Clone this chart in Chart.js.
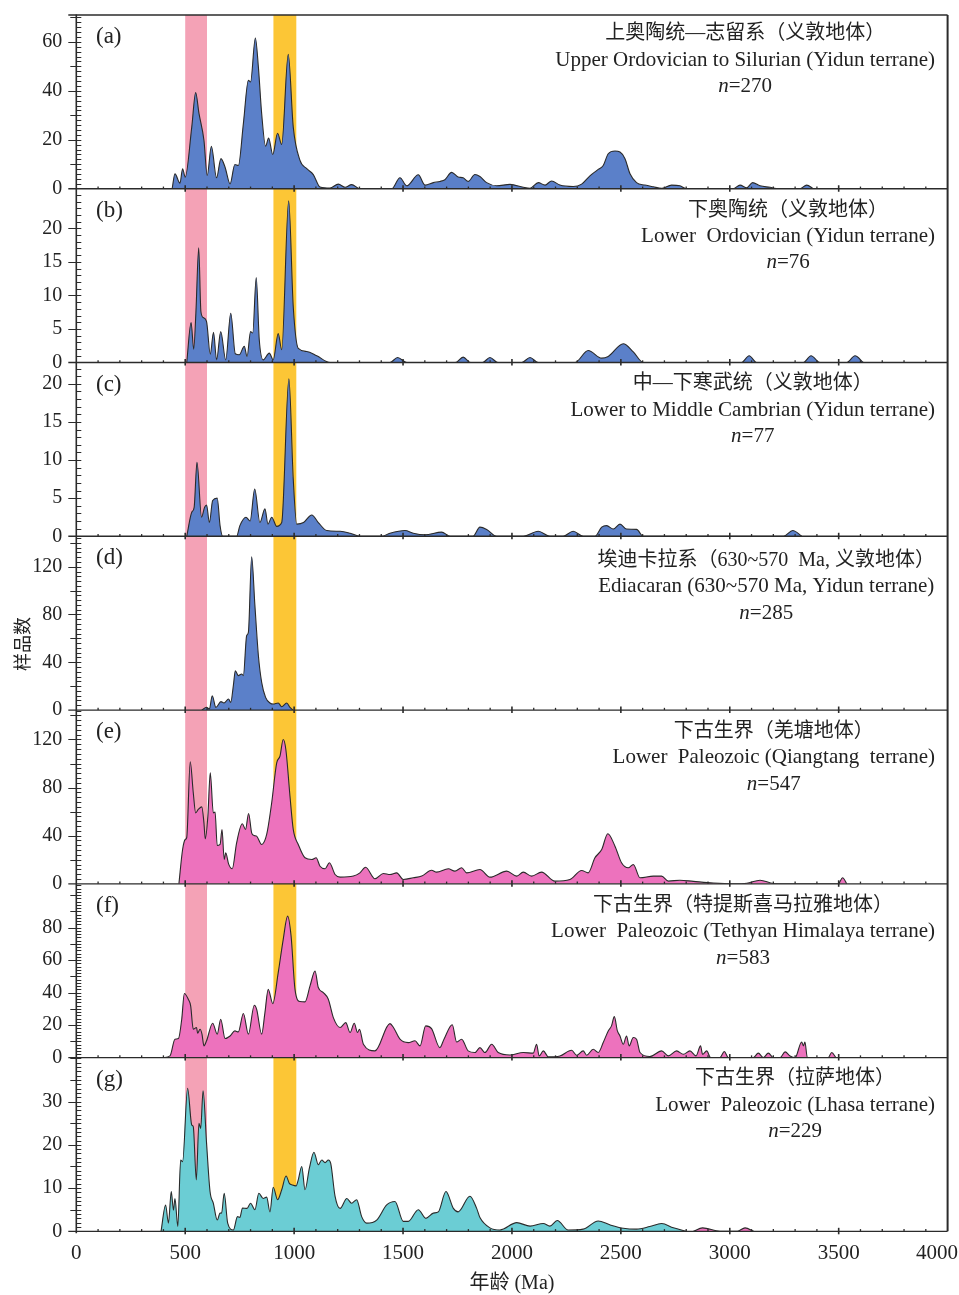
<!DOCTYPE html>
<html>
<head>
<meta charset="utf-8">
<script src="https://cdn.jsdelivr.net/npm/chart.js@4.4.1/dist/chart.umd.min.js"></script>
<style>
  html, body { margin: 0; padding: 0; background: #fff; }
  #wrap { position: relative; width: 959px; height: 1295px; }
</style>
</head>
<body>
<div id="wrap"><canvas id="chart" width="959" height="1295"></canvas></div>
<script>
// ages (Ma) and sample counts
const ageA = [440,453,476,488,500,530,548,563,586,601,620,644,664,683,706,728,744,767,790,800,822,836,851,869,883,902,924,943,973,996,1027,1058,1088,1119,1165,1203,1234,1264,1302,1448,1486,1517,1570,1601,1639,1669,1692,1723,1753,1776,1799,1830,1853,1884,1930,1991,2052,2083,2121,2152,2182,2220,2281,2320,2358,2396,2419,2442,2473,2496,2519,2542,2572,2610,2649,2687,2733,2771,2802,3016,3047,3078,3105,3139,3185,3223,3322,3353,3384];
const countA = [0,6.1,2.3,8.2,4.7,25.2,39.3,30.9,19.8,5.4,17.3,4.5,12.3,8.8,2,9.9,9.5,26.6,44.3,43.6,61.6,49.7,30.7,17.4,20.7,14,22.7,18.1,54.9,25.2,11.6,8.2,5.8,0.7,0.3,1.9,0.6,1.7,0,0,4.5,1.2,5.7,1.5,2.5,3,3.7,6.7,4.8,4.5,3,5.8,5.0,2.5,1.2,1.8,0.6,0.2,2.5,1.5,3.2,1.5,0.9,1.9,5.3,7.9,9.5,14.3,15.4,15,12.3,6.1,2.5,1.5,0.8,0.2,1.5,1.2,0,0,1.5,0.4,2.5,1.2,0.6,0,0,1.5,0];

const ageB = [507,527,539,549,562,572,583,598,615,630,644,663,686,709,730,748,771,784,800,810,826,840,858,886,904,927,943,975,996,1019,1058,1104,1165,1440,1475,1517,1740,1776,1810,1865,1899,1935,2045,2083,2120,2289,2350,2412,2442,2511,2557,2603,3054,3089,3123,3338,3373,3414,3537,3575,3613];
const countB = [0,5.95,2.0,7.4,17.1,7.6,6.7,6.1,1.25,4.5,0.4,4.6,0.4,7.35,1.3,1.15,2.4,0.9,4.6,4.4,12.65,3.4,0.4,1.4,0.4,4.3,1.9,24.1,8.3,2.1,1.65,1.0,0,0,0.75,0,0,0.8,0,0,0.75,0,0,0.75,0,0,1.8,0.65,0.9,2.8,1.6,0,0,1.0,0,0,1.0,0,0,1.0,0];

const ageC = [507,530,541,554,575,589,598,611,626,647,660,672,736,751,779,798,819,843,866,880,897,920,943,976,996,1012,1043,1081,1111,1150,1211,1257,1302,1402,1440,1509,1547,1601,1677,1716,1821,1853,1884,1930,2052,2121,2174,2235,2281,2327,2381,2412,2435,2465,2496,2526,2572,2603,3247,3289,3331];
const countC = [0,3.15,3.8,9.7,2.5,3.8,4.1,1.8,4.7,5.0,1.4,0,0,1.4,2.5,2.0,6.2,1.8,3.6,1.6,2.5,1.3,1.8,20.65,7.5,1.6,1.8,2.8,1.8,0.75,0.65,0.4,0,0,0.4,0.75,0.4,0.2,0.55,0,0,1.2,0.9,0,0,0.65,0,0,0.65,0,0,1.2,1.4,0.95,1.6,0.95,0.9,0,0,0.75,0];

const ageD = [576,598,611,624,641,664,678,699,709,721,730,744,759,767,782,790,805,820,836,851,869,889,904,927,943,966,981,994];
const countD = [0,2.2,0.8,12,2.2,7.0,5.9,9.2,6.4,20.4,32.9,28.8,30.2,28.8,62.2,65,128.4,87.4,45.5,23.2,10.6,5.9,5.0,5.9,2.8,5.9,2.2,0];

const ageE = [471,488,500,507,523,537,548,560,576,586,592,604,615,629,637,647,660,669,679,686,699,716,736,762,777,791,805,816,828,851,874,897,920,935,950,962,981,996,1019,1050,1081,1101,1119,1142,1162,1188,1211,1272,1302,1328,1371,1410,1440,1471,1501,1547,1586,1631,1654,1708,1738,1769,1792,1853,1899,1976,2022,2052,2090,2136,2197,2266,2320,2350,2381,2412,2440,2473,2503,2534,2557,2588,2649,2687,2718,2771,2833,2925,3016,3078,3139,3200,3307,3498,3518,3537];
const countE = [0,28.5,36.8,38.5,101.4,75.7,59,61.8,64,50.7,37.4,56.3,92.3,59,59.6,31.8,32.7,45.2,20.2,25.8,16.6,12.5,34.1,49.9,45.2,58.5,42.4,40.2,39.6,32.7,41,67.4,100.6,106.1,120,111.7,72.8,45.2,32.7,21.6,20.2,21.6,14.6,12.5,17.5,7.7,5.5,6.4,9.1,13.8,4.2,8.6,7.7,9.1,3.6,5.0,6.4,11.3,9.7,12.5,10.5,13.3,9.1,11.9,5.5,10.5,6.4,9.7,6.4,9.7,2.2,3.6,11.1,9.1,21.6,28.5,41.6,31.3,17.5,13.3,16.1,5.0,6.4,6.4,2.2,3,2,0.6,0,0.5,3,0.3,0,0,5.0,0];

const ageF = [400,430,453,469,484,496,514,525,537,552,557,568,577,586,598,626,647,663,683,706,728,744,767,790,817,828,851,866,881,902,927,950,970,986,1004,1027,1050,1073,1096,1111,1134,1157,1180,1211,1237,1257,1276,1291,1300,1318,1371,1440,1456,1486,1524,1555,1578,1604,1631,1669,1688,1726,1746,1769,1799,1830,1853,1876,1907,1937,1991,2052,2098,2113,2125,2144,2167,2220,2274,2297,2327,2343,2373,2396,2419,2442,2457,2470,2484,2496,2511,2526,2538,2557,2572,2588,2633,2687,2718,2756,2787,2817,2845,2866,2875,2894,2912,2955,2975,2993,3108,3131,3154,3177,3200,3231,3254,3277,3300,3330,3338,3345,3356,3452,3468,3487];
const countF = [0,1,11.3,11.7,23.6,39.4,35.9,31.8,17.4,18.5,15,17.4,14.4,7.2,10.3,21.1,14.4,23.6,11.7,13.3,16.4,15.8,27.1,14.4,32.2,29.7,14.4,27.7,42,33.2,52.3,72.8,87.1,74.9,42,34.5,34.3,44.1,53.3,43.1,40,35.9,24.6,18.5,21.5,15.4,21.1,15.4,17.4,8.2,4.1,20.9,18.5,11.3,9.2,10.3,7.2,19.5,17.8,6.1,11.3,20.2,9.6,11.3,4.1,3.1,6.1,3.1,8.2,3.1,1.6,3.1,2.7,8.2,1,4.1,0.4,1,4.5,1.4,4.1,1.4,5.1,3.1,9.2,16.4,19.5,25.2,16.4,13.3,8.2,13.3,7.2,12.3,11.3,3.1,0.6,4.1,1,4.1,2,4.1,1,7.2,2,4.1,0,0,3.7,0,0,2.7,0,2.7,0,0,3.5,1,0,9.6,7.2,9.6,0,0,3.1,0];

const ageG = [389,410,423,436,446,453,466,479,488,511,530,537,551,563,571,582,598,614,629,647,660,667,679,695,721,740,751,763,784,800,820,838,858,874,889,904,924,943,963,978,992,1009,1019,1035,1050,1070,1091,1111,1127,1142,1157,1168,1188,1211,1242,1264,1287,1310,1333,1379,1425,1463,1501,1524,1570,1605,1639,1662,1697,1731,1753,1807,1838,1853,1899,1945,2022,2083,2144,2174,2208,2258,2327,2396,2449,2511,2572,2633,2687,2741,2802];
const countG = [0,6.1,1.9,9.2,4.9,7.6,1.1,16.5,16.1,33.1,24.6,24.2,11.9,25,23.8,32.5,20.4,9.2,6.5,2.6,4.2,4.2,8.8,1.9,0.3,3.4,3.2,5.4,5.3,6.5,5,8.8,7.6,7.9,4.5,10.2,7.3,9.6,12.8,11.1,10.7,10.5,11.9,15,9.6,14.6,18.3,15.4,16.5,15.9,16.5,15.7,8.1,5.3,7.6,6.5,7.3,3.4,1.9,2.6,6.1,6.9,2.3,2.3,5,3,4.2,4.5,9.2,5.3,4.5,8.1,5.3,3.2,0.8,0.3,2,1.2,1.8,1.2,2.5,0.3,0.5,2.4,1.5,0.7,0.5,1.1,1.8,0.8,0];
const ageG2 = [2833,2875,2955,3035,3070,3110];
const countG2 = [0,0.8,0,0,0.8,0];

// panel text and axes
const panelLetters = ['a','b','c','d','e','f','g'];
const titlesZh = [
  '上奥陶统—志留系（义敦地体）',
  '下奥陶统（义敦地体）',
  '中—下寒武统（义敦地体）',
  '埃迪卡拉系（630~570  Ma, 义敦地体）',
  '下古生界（羌塘地体）',
  '下古生界（特提斯喜马拉雅地体）',
  '下古生界（拉萨地体）'
];
const titlesEn = [
  'Upper Ordovician to Silurian (Yidun terrane)',
  'Lower  Ordovician (Yidun terrane)',
  'Lower to Middle Cambrian (Yidun terrane)',
  'Ediacaran (630~570 Ma, Yidun terrane)',
  'Lower  Paleozoic (Qiangtang  terrane)',
  'Lower  Paleozoic (Tethyan Himalaya terrane)',
  'Lower  Paleozoic (Lhasa terrane)'
];
const sampleN = [270, 76, 77, 285, 547, 583, 229];
const yMax = [71, 25.9, 22.8, 145.5, 144.5, 107, 40.2];
const yLabels = [[0,20,40,60],[0,5,10,15,20],[0,5,10,15,20],[0,40,80,120],[0,40,80,120],[0,20,40,60,80],[0,10,20,30]];
const bandFrom = [500, 905];
const bandTo = [600, 1010];

// styling
const panelIds = ['ya','yb','yc','yd','ye','yf','yg'];
const minorStep = [2, 1, 1, 4, 4, 2, 1];
const midStep = [10, 0, 0, 20, 20, 10, 5];
const titleShift = [-2.5, 0, 0, 3, 0, 0.5, 0];
const bandColors = ['#f4a2b6', '#fcc636'];
const blue = '#5b80c9', pink = '#ed72bd', cyan = '#6bcdd4';
const ink = '#222';
const serif = '"Liberation Serif", "Times New Roman", serif';
const zhFont = '20px "Liberation Serif", "Noto Sans CJK SC", sans-serif';
const enFont = '21px ' + serif;
const nFont = '21px ' + serif;

const series = [
  [ageA, countA, 0, blue],
  [ageB, countB, 1, blue],
  [ageC, countC, 2, blue],
  [ageD, countD, 3, blue],
  [ageE, countE, 4, pink],
  [ageF, countF, 5, pink],
  [ageG, countG, 6, cyan],
  [ageG2, countG2, 6, pink]
];

const datasets = series.map(([ages, counts, p, color]) => ({
  data: ages.map((a, i) => ({ x: a, y: counts[i] })),
  yAxisID: panelIds[p],
  fill: 'origin',
  backgroundColor: color,
  borderColor: '#2a2a2a',
  borderWidth: 1.1,
  pointRadius: 0,
  tension: 0.4,
  cubicInterpolationMode: 'monotone'
}));

const scales = {
  x: {
    type: 'linear',
    position: 'bottom',
    min: 0,
    max: 4000,
    grid: { display: false, drawTicks: false },
    border: { display: false },
    ticks: {
      stepSize: 500, padding: 10, maxRotation: 0, autoSkip: false, color: ink,
      font: { family: serif, size: 21 },
      // last label sits inside the page edge, as in the figure
      callback: v => v === 4000 ? '4000\u2002\u2002' : String(v)
    },
    title: {
      display: true, text: '年龄 (Ma)', color: ink,
      font: { family: '"Liberation Serif", "Noto Sans CJK SC", serif', size: 20, lineHeight: 1 },
      padding: { top: 0, bottom: 1 }
    },
    afterFit: s => { s.height = 63.7; s.paddingLeft = 0; s.paddingRight = 0; }
  }
};

panelIds.forEach((id, p) => {
  scales[id] = {
    type: 'linear',
    position: 'left',
    stack: 'panels',
    stackWeight: 1,
    weight: 7 - p,
    min: 0,
    max: yMax[p],
    grid: { display: false, drawTicks: false },
    border: { display: false },
    afterBuildTicks: s => { s.ticks = yLabels[p].map(v => ({ value: v })); },
    afterFit: s => { s.width = 70; s.paddingTop = 0; s.paddingBottom = 0; },
    ticks: { padding: 14, autoSkip: false, color: ink, font: { family: serif, size: 20 }, callback: v => String(v) }
  };
});

function hline(ctx, x0, x1, y) {
  ctx.beginPath(); ctx.moveTo(x0, y); ctx.lineTo(x1, y); ctx.stroke();
}
function vline(ctx, x, y0, y1) {
  ctx.beginPath(); ctx.moveTo(x, y0); ctx.lineTo(x, y1); ctx.stroke();
}

const decor = {
  id: 'decor',
  beforeDatasetsDraw(chart) {
    const { ctx, chartArea: area } = chart;
    const x = chart.scales.x;
    ctx.save();
    bandFrom.forEach((from, i) => {
      const x0 = x.getPixelForValue(from);
      const x1 = x.getPixelForValue(bandTo[i]);
      ctx.fillStyle = bandColors[i];
      ctx.fillRect(x0, area.top, x1 - x0, area.bottom - area.top);
    });
    ctx.restore();
  },
  afterDatasetsDraw(chart) {
    const { ctx, chartArea: area } = chart;
    const x = chart.scales.x;
    ctx.save();
    ctx.strokeStyle = '#2b2b2b';

    // frame
    ctx.lineWidth = 1.3;
    hline(ctx, area.left - 8, area.right, area.top);
    ctx.lineWidth = 1.6;
    vline(ctx, area.left, area.top - 0.5, area.bottom + 2);
    ctx.lineWidth = 2;
    vline(ctx, area.right, area.top, area.bottom);

    panelIds.forEach((id, p) => {
      const s = chart.scales[id];
      const base = s.getPixelForValue(0);
      ctx.lineWidth = 1.3;
      hline(ctx, area.left - 8, area.right, base);

      for (let a = 100; a < 4000; a += 100) {
        const px = x.getPixelForValue(a);
        const big = a % 500 === 0;
        ctx.lineWidth = big ? 1.6 : 1.3;
        vline(ctx, px, base - (big ? 3.5 : 2.2), base + (big ? 3 : 0));
      }

      ctx.lineWidth = 1;
      for (let k = 1; k * minorStep[p] <= yMax[p]; k++) {
        const v = k * minorStep[p];
        const py = Math.round(s.getPixelForValue(v)) + 0.5;
        let l = 0;
        if (yLabels[p].includes(v)) l = 8;
        else if (midStep[p] && v % midStep[p] === 0) l = 6;
        hline(ctx, area.left - l, area.left + 5, py);
      }

      // panel letter
      ctx.fillStyle = ink;
      ctx.textBaseline = 'middle';
      ctx.textAlign = 'left';
      ctx.font = '23px ' + serif;
      ctx.fillText('(' + panelLetters[p] + ')', 96, s.top + 22);

      // title block, widest line right edge near the frame
      ctx.font = zhFont;
      const wZh = ctx.measureText(titlesZh[p]).width;
      ctx.font = enFont;
      const wEn = ctx.measureText(titlesEn[p]).width;
      const nRest = '=' + sampleN[p];
      ctx.font = nFont;
      const wRest = ctx.measureText(nRest).width;
      ctx.font = 'italic ' + nFont;
      const wN = ctx.measureText('n').width;
      const w = Math.max(wZh, wEn, wN + wRest);
      const cx = area.right - 12.6 - w / 2;
      const t = s.top + titleShift[p];

      ctx.textAlign = 'center';
      ctx.font = zhFont;
      ctx.fillText(titlesZh[p], cx, t + 21.5);
      ctx.font = enFont;
      ctx.fillText(titlesEn[p], cx, t + 47.5);
      ctx.textAlign = 'left';
      const nx = cx - (wN + wRest) / 2;
      ctx.font = 'italic ' + nFont;
      ctx.fillText('n', nx, t + 74);
      ctx.font = nFont;
      ctx.fillText(nRest, nx + wN, t + 74);
    });

    // y title
    ctx.translate(22, 644);
    ctx.rotate(-Math.PI / 2);
    ctx.textAlign = 'center';
    ctx.textBaseline = 'middle';
    ctx.fillStyle = ink;
    ctx.font = '18px "Noto Sans CJK SC", sans-serif';
    ctx.fillText('样品数', 0, 0);
    ctx.restore();
  }
};

new Chart(document.getElementById('chart'), {
  type: 'line',
  data: { datasets },
  options: {
    responsive: false,
    animation: false,
    layout: { padding: { left: 6.3, right: 11.4, top: 15, bottom: 0 } },
    plugins: { legend: { display: false }, tooltip: { enabled: false } },
    scales
  },
  plugins: [decor]
});
</script>
</body>
</html>
